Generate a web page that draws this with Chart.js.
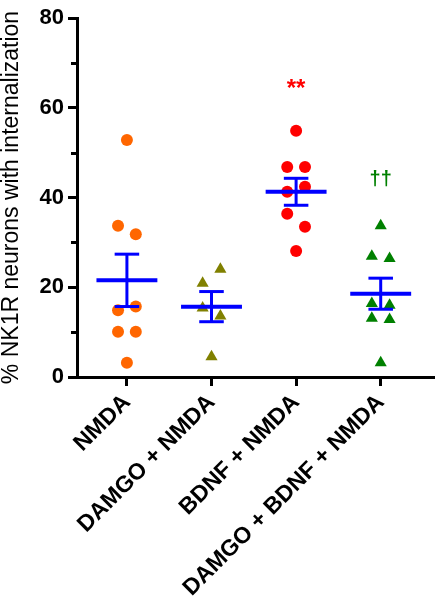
<!DOCTYPE html>
<html><head><meta charset="utf-8">
<script src="https://cdn.jsdelivr.net/npm/chart.js@4/dist/chart.umd.min.js"></script>
<style>html,body{margin:0;padding:0;background:#fff}#wrap{width:441px;height:600px;position:relative}</style>
</head><body><div id="wrap"><canvas id="c"></canvas></div>
<script>
// ---- data ----
const categories = ['NMDA', 'DAMGO + NMDA', 'BDNF + NMDA', 'DAMGO + BDNF + NMDA'];
const nmda = [52.8, 33.7, 31.8, 14.9, 15.7, 10.1, 10.1, 3.2];
const damgoNmda = [20.9, 24.0, 15.4, 13.6, 4.5];
const bdnfNmda = [54.9, 46.8, 46.8, 41.3, 42.4, 36.4, 33.5, 28.1];
const damgoBdnfNmda = [33.7, 26.9, 26.4, 16.4, 16.0, 13.1, 12.8, 3.2];
const yTicks = [0, 20, 40, 60, 80];
const yMinorTicks = [10, 30, 50, 70];
const significance = ['', '', '**', '\u2020\u2020'];
const yTitle = '% NK1R neurons with internalization';

// ---- styles ----
const groups = [nmda, damgoNmda, bdnfNmda, damgoBdnfNmda];
const colors = ['#FF6600', '#808000', '#FF0000', '#008000'];
const shapes = ['circle', 'triangle', 'circle', 'triangle'];
const radii = [6, 7, 6, 7];
const sigFonts = ['', '', 'bold 24px "Liberation Sans", Arial', 'bold 20px "Liberation Sans", Arial'];
const meanColor = '#0000FF';
const FONT = '"Liberation Sans", Arial, sans-serif';

// column scatter: points with close values spread symmetrically in pairs
function spread(vals) {
  const off = new Array(vals.length).fill(0);
  let i = 0;
  while (i < vals.length) {
    if (i + 1 < vals.length && Math.abs(vals[i] - vals[i + 1]) < 3.5) {
      off[i] = -0.105; off[i + 1] = 0.105; i += 2;
    } else { i += 1; }
  }
  return off;
}
function mean(a) { return a.reduce((s, v) => s + v, 0) / a.length; }
function sem(a) {
  const m = mean(a);
  const sd = Math.sqrt(a.reduce((s, v) => s + (v - m) * (v - m), 0) / (a.length - 1));
  return sd / Math.sqrt(a.length);
}

const datasets = [];
groups.forEach((g, i) => {
  const m = mean(g), e = sem(g);
  const lineDs = (pts, w) => ({
    type: 'scatter', data: pts, showLine: true, borderColor: meanColor,
    borderWidth: w, pointRadius: 0, pointHoverRadius: 0, order: 0, borderCapStyle: 'butt'
  });
  datasets.push(lineDs([{x: i - 0.36, y: m}, {x: i + 0.36, y: m}], 4));
  datasets.push(lineDs([{x: i, y: m - e}, {x: i, y: m + e}], 3));
  datasets.push(lineDs([{x: i - 0.145, y: m + e}, {x: i + 0.145, y: m + e}], 3));
  datasets.push(lineDs([{x: i - 0.145, y: m - e}, {x: i + 0.145, y: m - e}], 3));
});
groups.forEach((g, i) => {
  const off = spread(g);
  datasets.push({
    type: 'scatter', label: categories[i],
    data: g.map((v, k) => ({x: i + off[k], y: v})),
    pointStyle: shapes[i], pointRadius: radii[i], pointHoverRadius: radii[i],
    backgroundColor: colors[i], borderColor: colors[i], borderWidth: 0, order: 1
  });
});

const extras = {
  id: 'extras',
  afterDraw(chart) {
    const {ctx, scales: {x, y}} = chart;
    ctx.save();
    // minor ticks
    ctx.strokeStyle = '#000'; ctx.lineWidth = 3;
    yMinorTicks.forEach(v => {
      const py = Math.round(y.getPixelForValue(v)) + 0.5;
      ctx.beginPath(); ctx.moveTo(x.left - 6, py); ctx.lineTo(x.left, py); ctx.stroke();
    });
    // significance marks
    groups.forEach((g, i) => {
      if (!significance[i]) return;
      ctx.font = sigFonts[i];
      ctx.fillStyle = colors[i];
      ctx.textAlign = 'center';
      ctx.textBaseline = 'alphabetic';
      const mt = ctx.measureText(significance[i]);
      const yc = y.getPixelForValue(Math.max(...g) + 10.5);
      ctx.fillText(significance[i], x.getPixelForValue(i), yc + (mt.actualBoundingBoxAscent - mt.actualBoundingBoxDescent) / 2);
    });
    ctx.restore();
  }
};

Chart.defaults.font.family = FONT;
Chart.defaults.color = '#000';

new Chart(document.getElementById('c'), {
  type: 'scatter',
  data: {datasets},
  plugins: [extras],
  options: {
    responsive: true, maintainAspectRatio: false, animation: false,
    layout: {padding: {top: 18, right: 0, bottom: 0, left: 0}},
    plugins: {legend: {display: false}, tooltip: {enabled: false}},
    scales: {
      x: {
        type: 'linear', min: -0.59, max: 3.63,
        afterBuildTicks: s => { s.ticks = categories.map((c, i) => ({value: i})); },
        afterFit: s => { s.height = 223; },
        grid: {drawOnChartArea: false, drawTicks: true, tickLength: 9, tickWidth: 3, tickColor: '#000'},
        border: {display: true, color: '#000', width: 3},
        ticks: {
          autoSkip: false, minRotation: 45, maxRotation: 45, padding: 3,
          font: {size: 23, weight: 'bold', family: FONT}, color: '#000',
          callback: v => categories[v]
        }
      },
      y: {
        type: 'linear', min: 0, max: 80,
        afterBuildTicks: s => { s.ticks = yTicks.map(v => ({value: v})); },
        afterFit: s => { s.width = 77; },
        grid: {drawOnChartArea: false, drawTicks: true, tickLength: 9, tickWidth: 3, tickColor: '#000'},
        border: {display: true, color: '#000', width: 3},
        ticks: {padding: 4, font: {size: 22, weight: 'bold', family: FONT}, color: '#000'},
        title: {display: true, text: yTitle, color: '#000', padding: {top: 0, bottom: 0},
          font: {size: 23, weight: 'normal', family: FONT, lineHeight: 1}}
      }
    }
  }
});
</script></body></html>
